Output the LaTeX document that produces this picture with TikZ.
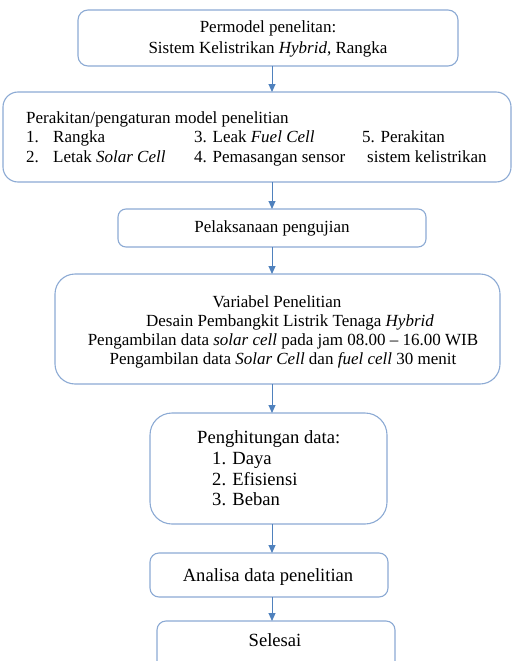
\documentclass[tikz,border=0pt]{standalone}
\usepackage{fontspec}
\setmainfont{Liberation Serif}
\usetikzlibrary{arrows.meta}
\definecolor{boxblue}{RGB}{140,170,212}
\definecolor{arrblue}{RGB}{79,129,189}
\tikzset{
  box/.style={draw=boxblue, line width=1.1pt, fill=white},
  flow/.style={draw=arrblue, line width=1pt, -{Triangle[width=7pt,length=8pt]}},
  txt/.style={font=\fontsize{17}{19}\selectfont, inner sep=0pt, anchor=base},
  ltxt/.style={txt, anchor=base west},
  big/.style={font=\fontsize{18.6}{21}\selectfont},
}
\begin{document}
\begin{tikzpicture}[x=1pt,y=-1pt]
\useasboundingbox (0,0) rectangle (514,661);
\clip (0,0) rectangle (514,661);
% boxes
\draw[box, rounded corners=10pt] (78,10) rectangle (458,66);
\node[coordinate] (b1) at (272,66) {};
\draw[box, rounded corners=15pt] (3,92) rectangle (511,182);
\node[coordinate] (b2t) at (272,92) {};
\node[coordinate] (b2b) at (272,182) {};
\draw[box, rounded corners=8pt] (118,209) rectangle (426,247);
\node[coordinate] (b3t) at (272,209) {};
\node[coordinate] (b3b) at (272,247) {};
\draw[box, rounded corners=20pt] (55,274) rectangle (500,384);
\node[coordinate] (b4t) at (272,274) {};
\node[coordinate] (b4b) at (272,384) {};
\draw[box, rounded corners=22pt] (150,413) rectangle (387,524);
\node[coordinate] (b5t) at (272,413) {};
\node[coordinate] (b5b) at (272,524) {};
\draw[box, rounded corners=9pt] (150,553) rectangle (388,597);
\node[coordinate] (b6t) at (272,553) {};
\node[coordinate] (b6b) at (272,597) {};
\draw[box, rounded corners=9pt] (157,621) rectangle (395,680);
\node[coordinate] (b7t) at (272,621) {};
% texts
\node[txt] (t1a) at (268,33) {Permodel penelitan:};
\node[txt] (t1b) at (268,53) {Sistem Kelistrikan \textit{Hybrid}, Rangka};
\node[ltxt] (t2a) at (26,123) {Perakitan/pengaturan model penelitian};
\node[ltxt] (t2b) at (26,142) {1.};
\node[ltxt] (t2c) at (53,142) {Rangka};
\node[ltxt] (t2d) at (26,162) {2.};
\node[ltxt] (t2e) at (53,162) {Letak \textit{Solar Cell}};
\node[ltxt] (t2f) at (194,142) {3. Leak \textit{Fuel Cell}};
\node[ltxt] (t2g) at (194,162) {4. Pemasangan sensor};
\node[ltxt] (t2h) at (362,142) {5. Perakitan};
\node[ltxt] (t2i) at (367,162) {sistem kelistrikan};
\node[txt] (t3) at (272,232) {Pelaksanaan pengujian};
\node[txt] (t4a) at (277,307) {Variabel Penelitian};
\node[txt] (t4b) at (290,326) {Desain Pembangkit Listrik Tenaga \textit{Hybrid}};
\node[txt] (t4c) at (283,345) {Pengambilan data \textit{solar cell} pada jam 08.00 -- 16.00 WIB};
\node[txt] (t4d) at (283,364) {Pengambilan data \textit{Solar Cell} dan \textit{fuel cell} 30 menit};
\node[ltxt, big] (t5a) at (197,443) {Penghitungan data:};
\node[ltxt, big] (t5b) at (212,464) {1. Daya};
\node[ltxt, big] (t5c) at (212,485) {2. Efisiensi};
\node[ltxt, big] (t5d) at (212,505) {3. Beban};
\node[txt, big] (t6) at (268,581) {Analisa data penelitian};
\node[txt, big] (t7) at (275,646) {Selesai};
% arrows
\draw[flow] (b1) -- (b2t);
\draw[flow] (b2b) -- (b3t);
\draw[flow] (b3b) -- (b4t);
\draw[flow] (b4b) -- (b5t);
\draw[flow] (b5b) -- (b6t);
\draw[flow] (b6b) -- (b7t);
\end{tikzpicture}
\end{document}
